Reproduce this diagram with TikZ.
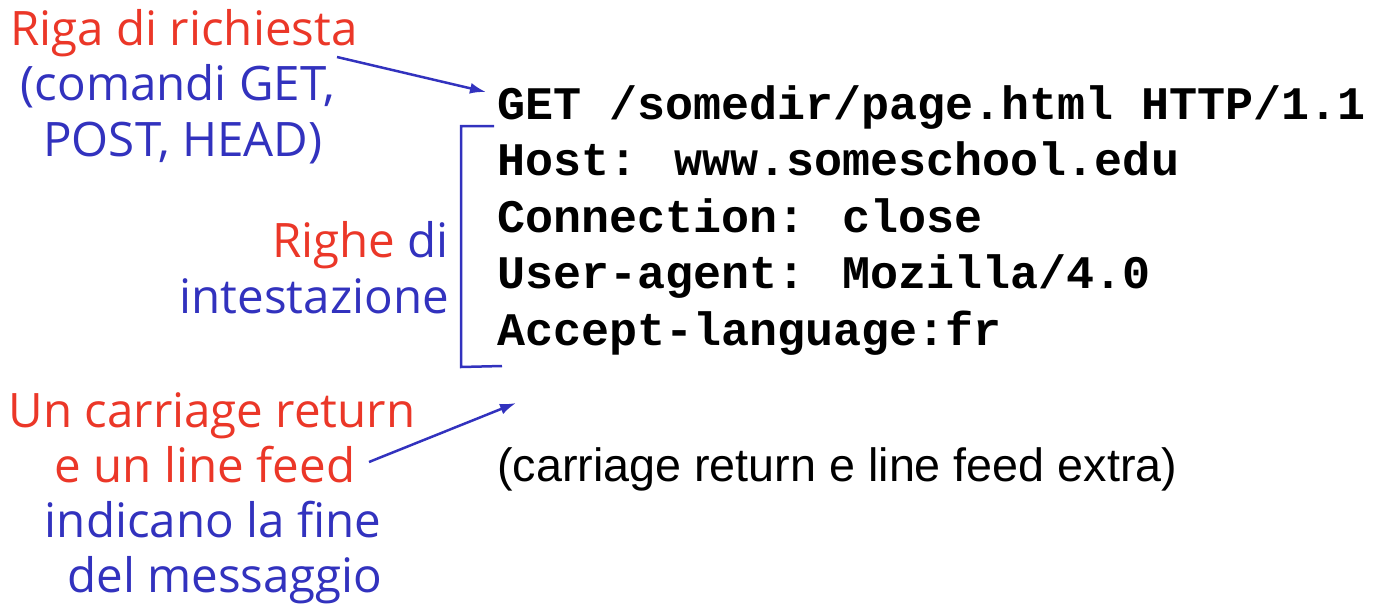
\documentclass[tikz,border=0pt]{standalone}
\usepackage{fontspec}
\setmainfont{Liberation Sans}
\newfontfamily\notefont{Open Sans}
\newfontfamily\codefont{Liberation Mono}
\definecolor{notered}{RGB}{235,55,40}
\definecolor{noteblue}{RGB}{50,50,190}
\tikzset{
    note/.style={font=\notefont\fontsize{47.5}{55}\selectfont, align=center, inner sep=0pt},
    code/.style={font=\codefont\bfseries\fontsize{46.7}{56.5}\selectfont, anchor=base west, inner sep=0pt},
    pointer/.style={noteblue, line width=2.5pt, -{Latex[length=16pt,width=11pt]}}
}
\usetikzlibrary{arrows.meta}
\begin{document}
\begin{tikzpicture}[x=1pt,y=-1pt]
        \useasboundingbox (0,0) rectangle (1374,608);
        % message lines
        \node[code] (req) at (497,119) {GET /somedir/page.html HTTP/1.1};
        \node[code] (host) at (497,175.5) {Host: www.someschool.edu};
        \node[code] (conn) at (497,232) {Connection: close};
        \node[code] (agent) at (497,288.5) {User-agent: Mozilla/4.0};
        \node[code] (lang) at (497,345) {Accept-language:fr};
        \node[anchor=base west, inner sep=0pt, font=\fontsize{46.7}{56}\selectfont] (extra) at (497,481) {(carriage return e line feed extra)};
        % notes
        \node[note, anchor=base] (rl) at (184,45) {\textcolor{notered}{Riga di richiesta}};
        \node[note, anchor=base] (rl2) at (178,100) {\textcolor{noteblue}{(comandi GET,}};
        \node[note, anchor=base] (rl3) at (183,156) {\textcolor{noteblue}{POST, HEAD)}};
        \node[note, anchor=base east] (hl) at (449,257) {\textcolor{notered}{Righe} \textcolor{noteblue}{di}};
        \node[note, anchor=base east] (hl2) at (449,313) {\textcolor{noteblue}{intestazione}};
        \node[note, anchor=base] (cr) at (212,427) {\textcolor{notered}{Un carriage return}};
        \node[note, anchor=base] (cr2) at (205,482) {\textcolor{notered}{e un line feed}};
        \node[note, anchor=base] (cr3) at (213,537) {\textcolor{noteblue}{indicano la fine}};
        \node[note, anchor=base] (cr4) at (225,592) {\textcolor{noteblue}{del messaggio}};
        % arrows and bracket
        \coordinate (reqtip) at (486,92);
        \coordinate (crtip) at (516,403);
        \draw[pointer] (337,57) -- (reqtip);
        \draw[pointer] (369,462) -- (crtip);
        \draw[noteblue, line width=2.5pt] (494,126) -- (461,126) -- (461,367) -- (502,366);
\end{tikzpicture}
\end{document}
